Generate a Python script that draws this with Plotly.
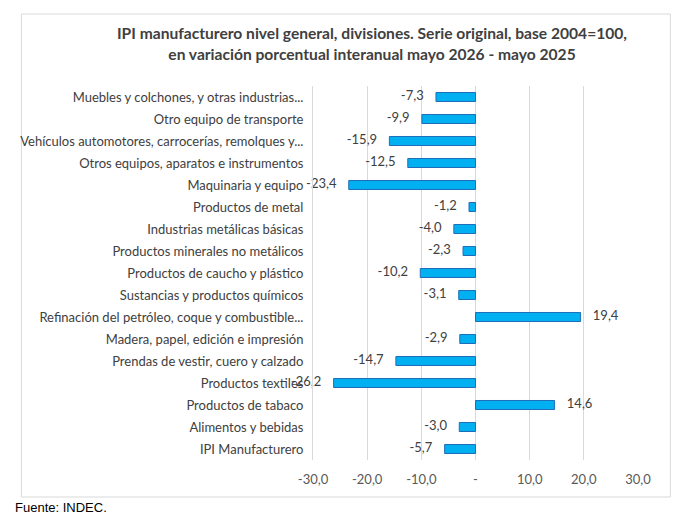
import plotly.graph_objects as go

categories = [
    "IPI Manufacturero",
    "Alimentos y bebidas",
    "Productos de tabaco",
    "Productos textiles",
    "Prendas de vestir, cuero y calzado",
    "Madera, papel, edición e impresión",
    "Refinación del petróleo, coque y combustible...",
    "Sustancias y productos químicos",
    "Productos de caucho y plástico",
    "Productos minerales no metálicos",
    "Industrias metálicas básicas",
    "Productos de metal",
    "Maquinaria y equipo",
    "Otros equipos, aparatos e instrumentos",
    "Vehículos automotores, carrocerías, remolques y...",
    "Otro equipo de transporte",
    "Muebles y colchones, y otras industrias...",
]
values = [-5.7, -3.0, 14.6, -26.2, -14.7, -2.9, 19.4, -3.1, -10.2, -2.3,
          -4.0, -1.2, -23.4, -12.5, -15.9, -9.9, -7.3]
tick_vals = [-30, -20, -10, 0, 10, 20, 30]
tick_text = ["-30,0", "-20,0", "-10,0", "-", "10,0", "20,0", "30,0"]

title = ("<b>IPI manufacturero nivel general, divisiones. Serie original, base 2004=100,"
         "<br>en variación porcentual interanual mayo 2026 - mayo 2025</b>")
source = "Fuente: INDEC."

FONT = "Lato"
W, H = 685, 513
L, R, T, B = 299, 55, 78, 61
PW, PH = W - L - R, H - T - B


def px(x):
    return (x - L) / PW


def py(y):
    return (H - B - y) / PH


fig = go.Figure()
fig.add_trace(go.Bar(
    x=values, y=categories, orientation="h",
    marker=dict(color="#00B0F0", line=dict(color="#1F6DB8", width=1)),
    hoverinfo="skip",
))
fig.add_trace(go.Scatter(
    x=values, y=categories, mode="text+markers",
    marker=dict(size=18, opacity=0),
    text=[f"{v:.1f}".replace(".", ",") for v in values],
    textposition=["middle left" if v < 0 else "middle right" for v in values],
    textfont=dict(family=FONT, size=13, color="#404040"),
    cliponaxis=False, hoverinfo="skip",
))

fig.update_layout(
    width=W, height=H,
    margin=dict(l=L, r=R, t=T, b=B),
    paper_bgcolor="white", plot_bgcolor="white",
    showlegend=False,
    bargap=0.59,
    font=dict(family=FONT, size=13, color="#404040"),
    title=dict(text=title, x=364 / W, xanchor="center", xref="container",
               y=0.939, yanchor="top",
               font=dict(family=FONT, size=15.6, color="#404040")),
    xaxis=dict(range=[-30, 30], tickvals=tick_vals, ticktext=tick_text,
               showgrid=True, gridcolor="#D9D9D9", gridwidth=1,
               zeroline=False, showline=False,
               tickfont=dict(family=FONT, size=13, color="#595959"),
               ticklabelstandoff=10, fixedrange=True),
    yaxis=dict(range=[-0.5, len(categories) - 0.5],
               showgrid=False, zeroline=False, showline=True, linecolor="#D9D9D9",
               linewidth=1, tickfont=dict(family=FONT, size=13, color="#404040"),
               ticklabelstandoff=6, fixedrange=True),
    shapes=[dict(type="rect", xref="paper", yref="paper",
                 x0=px(2), x1=px(663), y0=py(489), y1=py(6),
                 line=dict(color="#D9D9D9", width=1), fillcolor="rgba(0,0,0,0)",
                 layer="below")],
    annotations=[dict(text=source, xref="paper", yref="paper",
                      x=px(-7), y=py(499),
                      xanchor="left", yanchor="middle", showarrow=False,
                      font=dict(family="Liberation Sans", size=13, color="black"))],
)

fig.write_html("out.html")
